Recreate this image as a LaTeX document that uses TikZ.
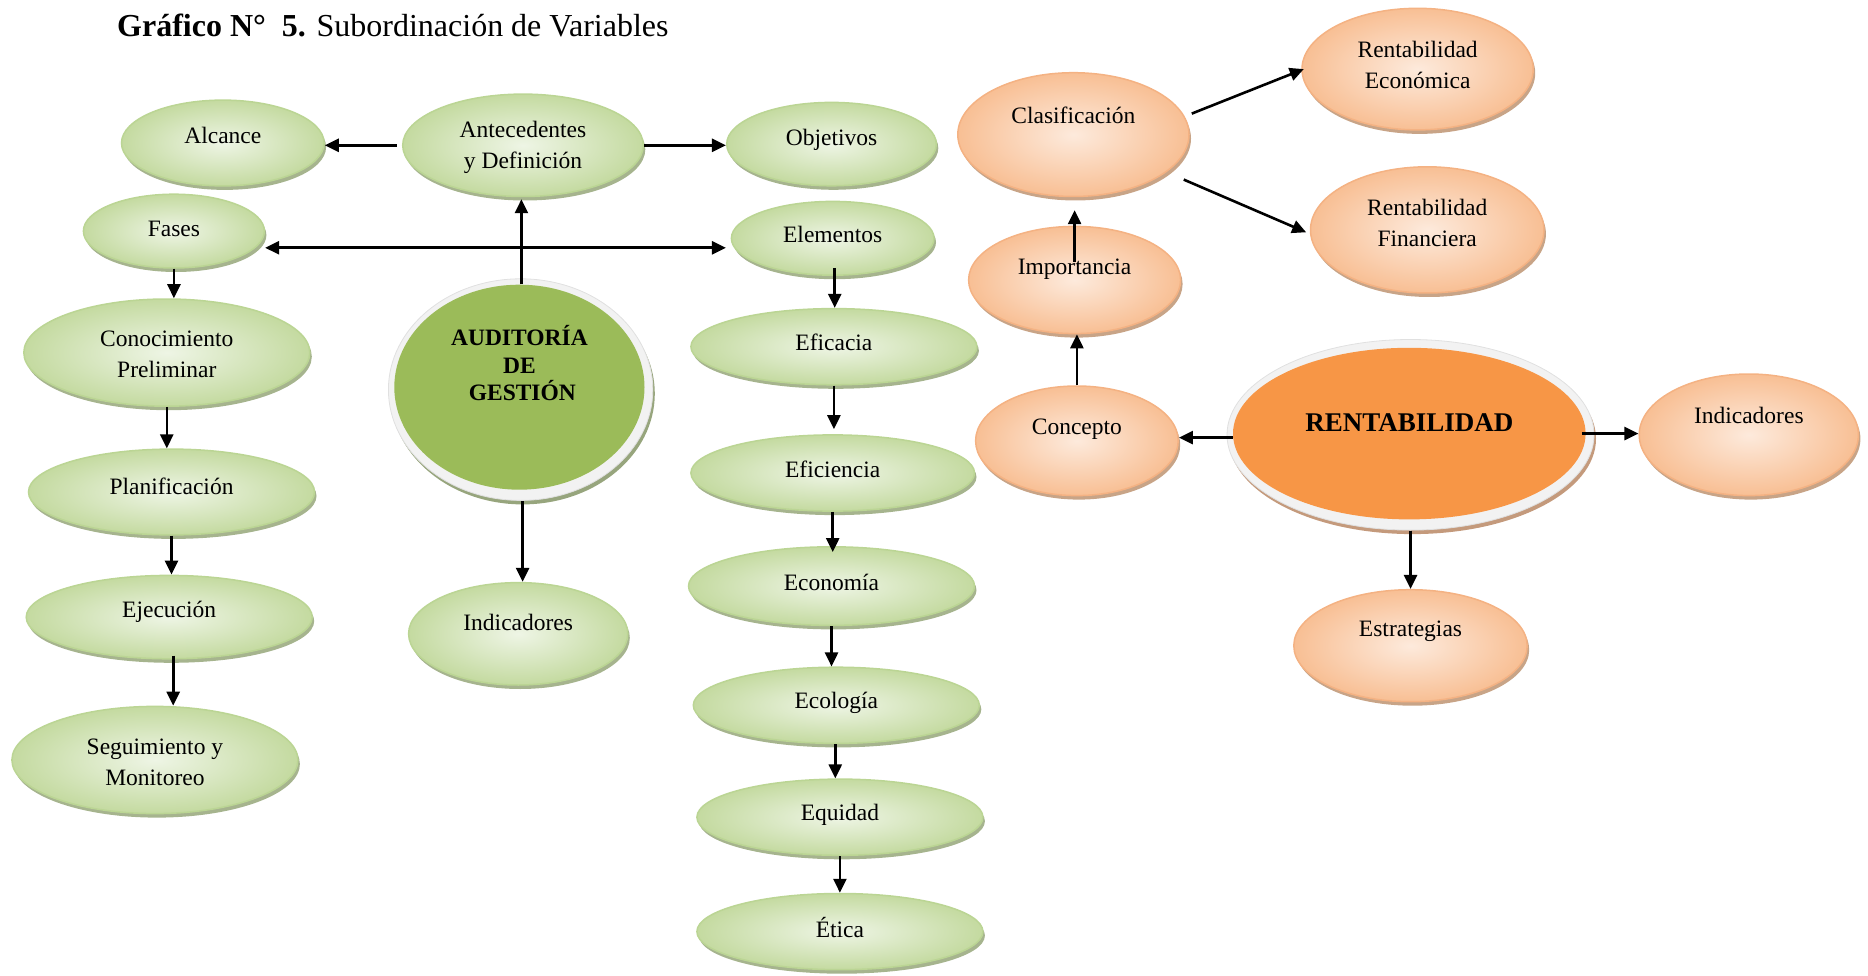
\documentclass[tikz,border=0pt]{standalone}
\usepackage{fontspec}
\setmainfont{Liberation Serif}
\usetikzlibrary{shapes.geometric,arrows.meta,shadows}

\definecolor{gin}{HTML}{EEF5E5}
\definecolor{gout}{HTML}{C4DAA0}
\definecolor{gline}{HTML}{BBD594}
\definecolor{gshade}{HTML}{A6B48E}
\definecolor{oin}{HTML}{FDEADC}
\definecolor{oout}{HTML}{F8BF94}
\definecolor{oline}{HTML}{F4B283}
\definecolor{oshade}{HTML}{C8A487}
\definecolor{audfill}{HTML}{9BBB59}
\definecolor{audshade}{HTML}{97A57D}
\definecolor{renfill}{HTML}{F79646}
\definecolor{renshade}{HTML}{C49A7C}
\definecolor{ringcol}{HTML}{F2F2F2}

% one bubble: style, name, centre, x radius, y radius, text lift, text
\newcommand\bubble[7]{%
  \node[#1, minimum width=2*#4, minimum height=2*#5] (#2) at (#3) {};
  \node[txt, yshift=#6pt] (#2-t) at (#2.center) {#7};}

\begin{document}
\begin{tikzpicture}[x=1pt,y=-1pt,
  >={Triangle[length=14pt,width=13pt]},
  txt/.style={font=\fontsize{23.5}{31}\selectfont, align=center, inner sep=0pt},
  bigtxt/.style={font=\bfseries\fontsize{23.5}{27.5}\selectfont, align=center, inner sep=0pt},
  bubble/.style={ellipse, inner sep=0pt, line width=1.5pt},
  gbub/.style={bubble, draw=gline, shading=radial, inner color=gin, outer color=gout,
    drop shadow={shadow xshift=2pt, shadow yshift=-4pt, fill=gshade, opacity=1}},
  obub/.style={bubble, draw=oline, shading=radial, inner color=oin, outer color=oout,
    drop shadow={shadow xshift=2pt, shadow yshift=-4pt, fill=oshade, opacity=1}},
  ringbub/.style={ellipse, inner sep=0pt, fill=ringcol, draw=black!12, line width=0.8pt},
  link/.style={->, line width=2.6pt},
]
\useasboundingbox (0,0) rectangle (1868,976);

% title
\node[anchor=base west, font=\fontsize{32}{38}\selectfont, inner sep=0pt] (title) at (117,37)
  {\textbf{Gráfico N°\ \ 5.} Subordinación de Variables};

% ---- Auditoría de Gestión ----
\bubble{gbub}{alc}{222.8,143.0}{101.3}{42.9}{8}{Alcance}
\bubble{gbub}{ant}{523.0,145.3}{120.3}{51.2}{-2}{Antecedentes\\y Definición}
\bubble{gbub}{obj}{831.5,144.1}{104.8}{41.7}{4.5}{Objetivos}
\bubble{gbub}{fas}{173.9,231.1}{90.5}{36.9}{2.5}{Fases}
\bubble{gbub}{ele}{832.7,238.3}{101.3}{36.9}{4}{Elementos}
\bubble{gbub}{con}{166.8,352.6}{143.0}{53.6}{-1.5}{Conocimiento\\Preliminar}
\bubble{gbub}{efa}{833.9,346.7}{143.0}{38.1}{4}{Eficacia}
\bubble{gbub}{pla}{171.5,492.0}{143.0}{42.9}{6}{Planificación}
\bubble{gbub}{efi}{832.7,473.0}{141.8}{38.1}{4}{Eficiencia}
\bubble{gbub}{eje}{169.2,617.1}{143.0}{41.7}{5}{Ejecución}
\bubble{gbub}{ind}{518.2,633.8}{109.6}{51.2}{11.5}{Indicadores}
\bubble{gbub}{eco}{831.5,586.1}{143.0}{39.3}{4}{Economía}
\bubble{gbub}{seg}{154.9,760.0}{143.0}{53.6}{-2.5}{Seguimiento y\\Monitoreo}
\bubble{gbub}{ecl}{836.3,705.3}{143.0}{38.1}{2.5}{Ecología}
\bubble{gbub}{equ}{839.9,817.2}{143.0}{38.1}{2.5}{Equidad}
\bubble{gbub}{eti}{839.9,931.6}{143.0}{38.1}{4}{Ética}

\node[ringbub, minimum width=264.4, minimum height=221.6,
  drop shadow={shadow xshift=2pt, shadow yshift=-4pt, fill=audshade, opacity=1}]
  (aud) at (520.6,389.6) {};
\node[ellipse, inner sep=0pt, fill=audfill, minimum width=250.2, minimum height=205]
  (audin) at (519.4,387.2) {};
\node[bigtxt, yshift=24pt] (aud-t) at (audin.center) {AUDITORÍA\\DE\\\ GESTIÓN};

% ---- Rentabilidad ----
\bubble{obub}{cla}{1073.4,134.6}{115.6}{61.9}{19}{Clasificación}
\bubble{obub}{reco}{1417.6,69.1}{115.6}{60.8}{4}{Rentabilidad\\Económica}
\bubble{obub}{rfin}{1427.2,229.9}{116.7}{63.1}{6.5}{Rentabilidad\\Financiera}
\bubble{obub}{imp}{1074.6,280.0}{106.0}{53.6}{11}{Importancia}
\bubble{obub}{cpt}{1076.9,440.8}{101.3}{54.8}{12}{Concepto}
\bubble{obub}{oind}{1748.8,434.8}{109.6}{60.8}{19}{Indicadores}
\bubble{obub}{est}{1410.5,645.7}{116.7}{56.0}{14}{Estrategias}

\node[ringbub, minimum width=367, minimum height=190.6,
  drop shadow={shadow xshift=2pt, shadow yshift=-4pt, fill=renshade, opacity=1}]
  (ren) at (1410.5,434.8) {};
\node[ellipse, inner sep=0pt, fill=renfill, minimum width=352.6, minimum height=171.6]
  (renin) at (1409.3,433.6) {};
\node[bigtxt, font=\bfseries\fontsize{27}{31}\selectfont, yshift=11pt] (ren-t) at (renin.center) {RENTABILIDAD};

% ---- connectors: Auditoría de Gestión ----
\draw[link, shorten <=5pt] (ant.west) -- (ant.west -| alc.east);
\draw[link] (ant.east) -- (ant.east -| obj.west);
\draw[<->, line width=2.6pt, shorten >=4.7pt]
  ([yshift=-16.7pt]fas.east) -- ([yshift=-16.7pt]fas.east -| ele.west);
\draw[link, shorten >=2pt] ([xshift=2pt]audin.north) -- ([xshift=2pt]audin.north |- ant.south);
\draw[link] ([xshift=2pt]aud.south) -- ([xshift=2pt]aud.south |- ind.north);
\draw[link] (fas.south) -- (fas.south |- con.north);
\draw[link] (con.south) -- (con.south |- pla.north);
\draw[link] (pla.south) -- (pla.south |- eje.north);
\draw[link, shorten <=-4pt] ([xshift=4pt]eje.south) -- ([xshift=4pt]eje.south |- seg.north);
\draw[link, shorten <=-8pt] ([xshift=2pt]ele.south) -- ([xshift=2pt]ele.south |- efa.north);
\draw[link, shorten >=5pt] (efa.south) -- (efa.south |- efi.north);
\draw[link, shorten >=-6pt] (efi.south) -- (efi.south |- eco.north);
\draw[link] (eco.south) -- (eco.south |- ecl.north);
\draw[link] ([xshift=-1pt]ecl.south) -- ([xshift=-1pt]ecl.south |- equ.north);
\draw[link] (equ.south) -- (equ.south |- eti.north);

% ---- connectors: Rentabilidad ----
\draw[link] ([yshift=-4pt]renin.west) -- ([yshift=-4pt]renin.west -| cpt.east);
\draw[link, shorten <=-4pt] (renin.east) -- (renin.east -| oind.west);
\draw[link] (ren.south) -- (ren.south |- est.north);
\draw[link] (cpt.north) -- (cpt.north |- imp.south);
\draw[link, shorten >=13pt] ([yshift=18pt]imp.center) -- (imp.center |- cla.south);
\draw[link] ([xshift=2pt,yshift=21pt]cla.east) -- ([xshift=2.5pt]reco.west);
\draw[link] ([xshift=-6pt,yshift=-45pt]cla.east) -- ([xshift=-3.6pt,yshift=-2.4pt]rfin.west);
\end{tikzpicture}
\end{document}
